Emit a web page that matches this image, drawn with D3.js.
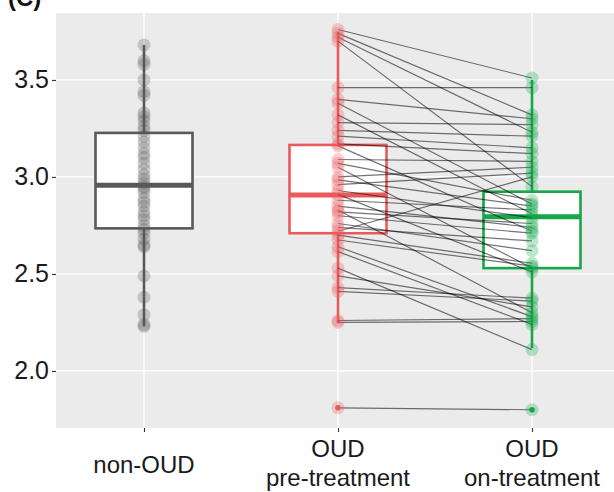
<!DOCTYPE html>
<html><head><meta charset="utf-8">
<script src="https://cdn.jsdelivr.net/npm/d3@7"></script>
<style>html,body{margin:0;padding:0;background:#fff;}svg{display:block;}</style>
</head><body>
<svg id="chart" width="614" height="492"></svg>
<script>
// ---- data ----
const categories = ["non-OUD", "OUD pre-treatment", "OUD on-treatment"];
const categoryLabels = [["non-OUD"], ["OUD", "pre-treatment"], ["OUD", "on-treatment"]];
const nonOUD = [3.68,3.60,3.58,3.50,3.44,3.42,3.33,3.31,3.29,3.26,3.24,3.21,3.18,3.15,3.12,3.10,3.07,3.04,3.01,2.99,2.97,2.95,2.94,2.92,2.89,2.87,2.85,2.82,2.80,2.78,2.75,2.73,2.71,2.68,2.65,2.64,2.49,2.38,2.29,2.24,2.23];
const preTreatment = [3.76,3.74,3.72,3.70,3.46,3.40,3.38,3.32,3.28,3.24,3.21,3.17,3.16,3.09,3.07,3.05,3.00,2.985,2.96,2.93,2.91,2.88,2.85,2.83,2.82,2.80,2.76,2.74,2.72,2.70,2.675,2.64,2.615,2.53,2.49,2.43,2.41,2.26,2.25,1.81];
const onTreatment  = [3.51,3.32,3.23,2.95,3.46,3.30,2.86,2.81,3.27,3.21,3.15,3.12,2.72,3.08,2.88,2.53,3.05,2.85,3.02,2.79,2.51,2.83,2.74,2.30,2.76,2.71,2.62,2.67,3.00,2.555,2.54,2.28,2.24,2.11,2.33,2.375,2.36,2.27,2.255,1.80];
// box statistics: [whiskerLow, q1, median, q3, whiskerHigh]
const boxNon = [2.23, 2.735, 2.957, 3.227, 3.68];
const boxPre = [2.246, 2.71, 2.907, 3.165, 3.749];
const boxOn  = [2.117, 2.53, 2.795, 2.924, 3.50];
const outliersPre = [1.81];
const outliersOn = [1.80];
const yTicks = [2.0, 2.5, 3.0, 3.5];
const colors = ["#595959", "#E85A5C", "#17A64A"];

// ---- layout ----
const svg = d3.select("#chart");
const panel = {left: 56, top: 13, right: 620, bottom: 428};
const y = d3.scaleLinear().domain([1.706, 3.845]).range([panel.bottom, panel.top]);
const x = d3.scalePoint().domain(categories).range([144, 532]);
const boxW = 97;
const font = "Liberation Sans, Arial, Helvetica, sans-serif";

// panel tag (cut off at top, as in the reference)
svg.append("text").attr("x", 8).attr("y", 6).attr("font-family", font)
  .attr("font-size", 24).attr("font-weight", "bold").attr("fill", "#111").text("(C)");

// panel background
svg.append("rect").attr("x", panel.left).attr("y", panel.top)
  .attr("width", panel.right - panel.left).attr("height", panel.bottom - panel.top).attr("fill", "#EBEBEB");

// grid
const grid = svg.append("g");
grid.selectAll("line.h").data(yTicks).join("line")
  .attr("x1", panel.left).attr("x2", panel.right).attr("y1", d => y(d)).attr("y2", d => y(d))
  .attr("stroke", "#fff").attr("stroke-width", 1.3);
grid.selectAll("line.v").data(categories).join("line")
  .attr("y1", panel.top).attr("y2", panel.bottom).attr("x1", d => x(d)).attr("x2", d => x(d))
  .attr("stroke", "#fff").attr("stroke-width", 1.3);

// axes
const yAxis = svg.append("g").attr("transform", `translate(${panel.left},0)`)
  .call(d3.axisLeft(y).tickValues(yTicks).tickFormat(d3.format(".1f")).tickSize(4).tickPadding(3));
yAxis.select(".domain").remove();
yAxis.selectAll(".tick line").attr("stroke", "#333").attr("stroke-width", 1.1);
yAxis.selectAll(".tick text").attr("font-family", font)
  .attr("font-size", 25).attr("fill", "#1a1a1a");

const xAxis = svg.append("g").attr("transform", `translate(0,${panel.bottom})`)
  .call(d3.axisBottom(x).tickSize(4).tickFormat(""));
xAxis.select(".domain").remove();
xAxis.selectAll(".tick line").attr("stroke", "#333").attr("stroke-width", 1.1);
xAxis.selectAll(".tick text").remove();
categories.forEach((c, i) => {
  const lines = categoryLabels[i];
  const t = svg.append("text").attr("text-anchor", "middle")
    .attr("font-family", font).attr("font-size", 24).attr("fill", "#1a1a1a");
  const y0 = lines.length === 1 ? 473 : 457;
  lines.forEach((l, j) => t.append("tspan").attr("x", x(c)).attr("y", y0 + j * 29).text(l));
});

// boxes
const boxes = [boxNon, boxPre, boxOn];
const bg = svg.append("g");
boxes.forEach((b, i) => {
  const cx = x(categories[i]);
  const g = bg.append("g").attr("stroke", colors[i]).attr("fill", "none");
  g.append("line").attr("x1", cx).attr("x2", cx).attr("y1", y(b[3])).attr("y2", y(b[4])).attr("stroke-width", 2.6);
  g.append("line").attr("x1", cx).attr("x2", cx).attr("y1", y(b[1])).attr("y2", y(b[0])).attr("stroke-width", 2.6);
  g.append("rect").attr("x", cx - boxW / 2).attr("width", boxW)
    .attr("y", y(b[3])).attr("height", y(b[1]) - y(b[3])).attr("fill", "#fff").attr("stroke-width", 2.6);
  g.append("line").attr("x1", cx - boxW / 2).attr("x2", cx + boxW / 2).attr("y1", y(b[2])).attr("y2", y(b[2])).attr("stroke-width", 5);
});

// paired lines
svg.append("g").selectAll("line").data(d3.range(preTreatment.length)).join("line")
  .attr("x1", x(categories[1])).attr("x2", x(categories[2]))
  .attr("y1", i => y(preTreatment[i])).attr("y2", i => y(onTreatment[i]))
  .attr("stroke", "#000").attr("stroke-opacity", 0.55).attr("stroke-width", 1.2);

// outliers (solid small)
[[outliersPre, 1], [outliersOn, 2]].forEach(([arr, i]) => {
  svg.append("g").selectAll("circle").data(arr).join("circle")
    .attr("cx", x(categories[i])).attr("cy", d => y(d)).attr("r", 2.8).attr("fill", colors[i]);
});

// points
[nonOUD, preTreatment, onTreatment].forEach((arr, i) => {
  svg.append("g").selectAll("circle").data(arr).join("circle")
    .attr("cx", x(categories[i])).attr("cy", d => y(d)).attr("r", 6.5)
    .attr("fill", colors[i]).attr("fill-opacity", 0.28);
});
</script>
</body></html>
